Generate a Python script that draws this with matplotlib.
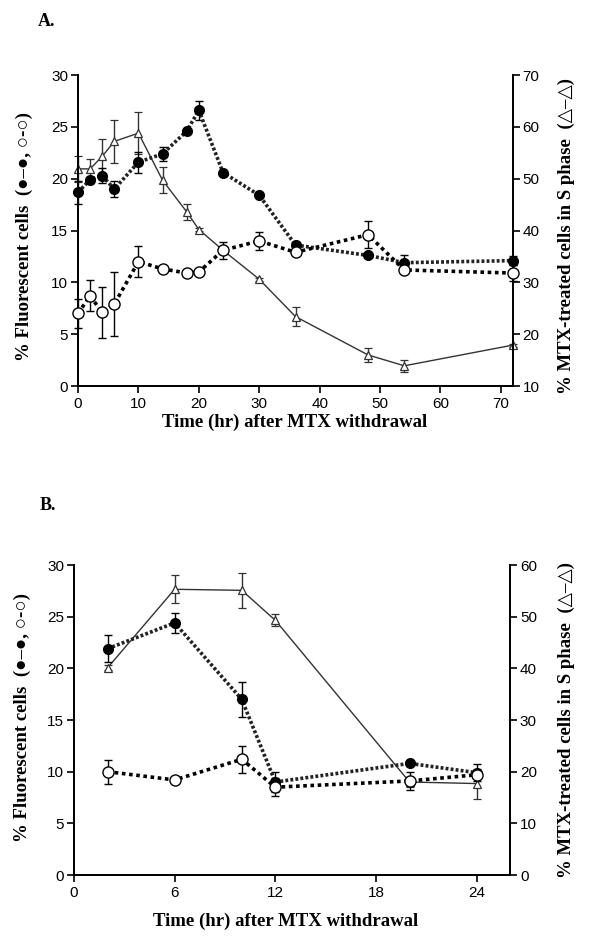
import matplotlib
matplotlib.use("Agg")
import matplotlib.pyplot as plt
import numpy as np

# ---- panel A data ----
a_time = [0, 2, 4, 6, 10, 14, 18, 20, 24, 30, 36, 48, 54, 72]
a_filled = [18.7, 19.9, 20.3, 19.0, 21.6, 22.4, 24.6, 26.6, 20.6, 18.4, 13.6, 12.6, 11.9, 12.1]
a_filled_err = [1.1, 0.3, 0.7, 0.8, 1.0, 0.7, 0.2, 0.9, 0.1, 0.1, 0.3, 0.1, 0.7, 0.4]
a_open = [7.0, 8.7, 7.1, 7.9, 12.0, 11.3, 10.9, 11.0, 13.1, 14.0, 12.9, 14.6, 11.2, 10.9]
a_open_err = [1.4, 1.5, 2.5, 3.1, 1.5, 0.2, 0.2, 0.2, 0.8, 0.85, 0.2, 1.3, 0.3, 0.8]
a_tri = [51.9, 51.9, 54.3, 57.2, 58.8, 49.7, 43.6, 40.2, 36.2, 30.6, 23.4, 16.0, 13.9, 17.9]
a_tri_err = [2.5, 2.0, 3.3, 4.2, 4.0, 2.5, 1.6, 0.3, 0.5, 0.3, 1.9, 1.4, 1.1, 0.3]

# ---- panel B data ----
b_time = [2, 6, 10, 12, 20, 24]
b_filled = [21.9, 24.4, 17.0, 9.0, 10.8, 9.9]
b_filled_err = [1.3, 1.0, 1.7, 1.0, 0.2, 0.8]
b_open = [10.0, 9.2, 11.2, 8.5, 9.1, 9.7]
b_open_err = [1.15, 0.2, 1.3, 0.9, 0.85, 0.3]
b_tri = [40.1, 55.3, 55.1, 49.3, 18.0, 17.7]
b_tri_err = [0.5, 2.7, 3.4, 1.2, 1.0, 2.9]

serif = ['Liberation Serif', 'DejaVu Sans']
plt.rcParams['font.family'] = ['Liberation Sans', 'DejaVu Sans']
plt.rcParams['axes.linewidth'] = 1.3

fig = plt.figure(figsize=(6, 9.48), dpi=100)


def panel(rect, t, fil, fil_e, op, op_e, tri, tri_e, xlim, xticks, rlim, rticks):
    ax = fig.add_axes(rect)
    ax2 = ax.twinx()
    # triangle series on right axis
    ax2.errorbar(t, tri, yerr=tri_e, color='#333333', lw=1.0, marker='^',
                 ms=5.5, mfc='white', mec='#333333', mew=0.9, capsize=3,
                 elinewidth=1.0, capthick=1.0, zorder=2)
    ax.errorbar(t, fil, yerr=fil_e, color='#222222', lw=2.6, ls=(0, (0.8, 0.6)),
                marker='o', ms=7, mfc='black', mec='black', capsize=3,
                elinewidth=1.0, ecolor='black', capthick=1.0, zorder=3)
    ax.errorbar(t, op, yerr=op_e, color='black', lw=2.6, ls=(0, (1.0, 1.0)),
                marker='o', ms=8, mfc='white', mec='black', mew=1.0, capsize=3,
                elinewidth=1.0, ecolor='black', capthick=1.0, zorder=4)
    for a in (ax, ax2):
        for c in a.lines + a.collections:
            c.set_clip_on(False)
    ax.set_zorder(ax2.get_zorder() + 1)
    ax.patch.set_visible(False)
    ax.set_xlim(*xlim)
    ax.set_ylim(0, 30)
    ax.set_yticks(range(0, 31, 5))
    ax.set_xticks(xticks)
    ax2.set_ylim(*rlim)
    ax2.set_yticks(rticks)
    for a in (ax, ax2):
        a.spines['top'].set_visible(False)
        a.tick_params(direction='out', length=5, width=1.2, labelsize=11, pad=2)
    ax.tick_params(axis='x', pad=3)
    return ax, ax2


panel([0.130, 0.5928, 0.725, 0.328], a_time, a_filled, a_filled_err, a_open, a_open_err,
      a_tri, a_tri_err, (0, 72), range(0, 71, 10), (10, 70), range(10, 71, 10))
panel([0.1233, 0.077, 0.727, 0.327], b_time, b_filled, b_filled_err, b_open, b_open_err,
      b_tri, b_tri_err, (0, 26), range(0, 25, 6), (0, 60), range(0, 61, 10))

# panel letters
fig.text(38 / 600, 1 - 22 / 948, 'A.', family=serif, weight='bold', fontsize=13, va='center')
fig.text(40 / 600, 1 - 505 / 948, 'B.', family=serif, weight='bold', fontsize=13, va='center')

# axis labels
xl = 'Time (hr) after MTX withdrawal'
fig.text(295 / 600, 1 - 422 / 948, xl, family=serif, weight='bold', fontsize=13.5,
         ha='center', va='center')
fig.text(286 / 600, 1 - 921 / 948, xl, family=serif, weight='bold', fontsize=13.5,
         ha='center', va='center')

yl = '% Fluorescent cells  (\u25cf\u2013\u25cf, \u25cb-\u25cb)'
yr = '% MTX-treated cells in S phase  (\u25b3\u2013\u25b3)'
fig.text(24 / 600, 1 - 236 / 948, yl, family=serif, weight='bold', fontsize=13.5,
         rotation=90, ha='center', va='center')
fig.text(566 / 600, 1 - 236 / 948, yr, family=serif, weight='bold', fontsize=13.5,
         rotation=90, ha='center', va='center')
fig.text(22 / 600, 1 - 718 / 948, yl, family=serif, weight='bold', fontsize=13.5,
         rotation=90, ha='center', va='center')
fig.text(566 / 600, 1 - 720 / 948, yr, family=serif, weight='bold', fontsize=13.5,
         rotation=90, ha='center', va='center')

fig.savefig('out.png', dpi=100)
